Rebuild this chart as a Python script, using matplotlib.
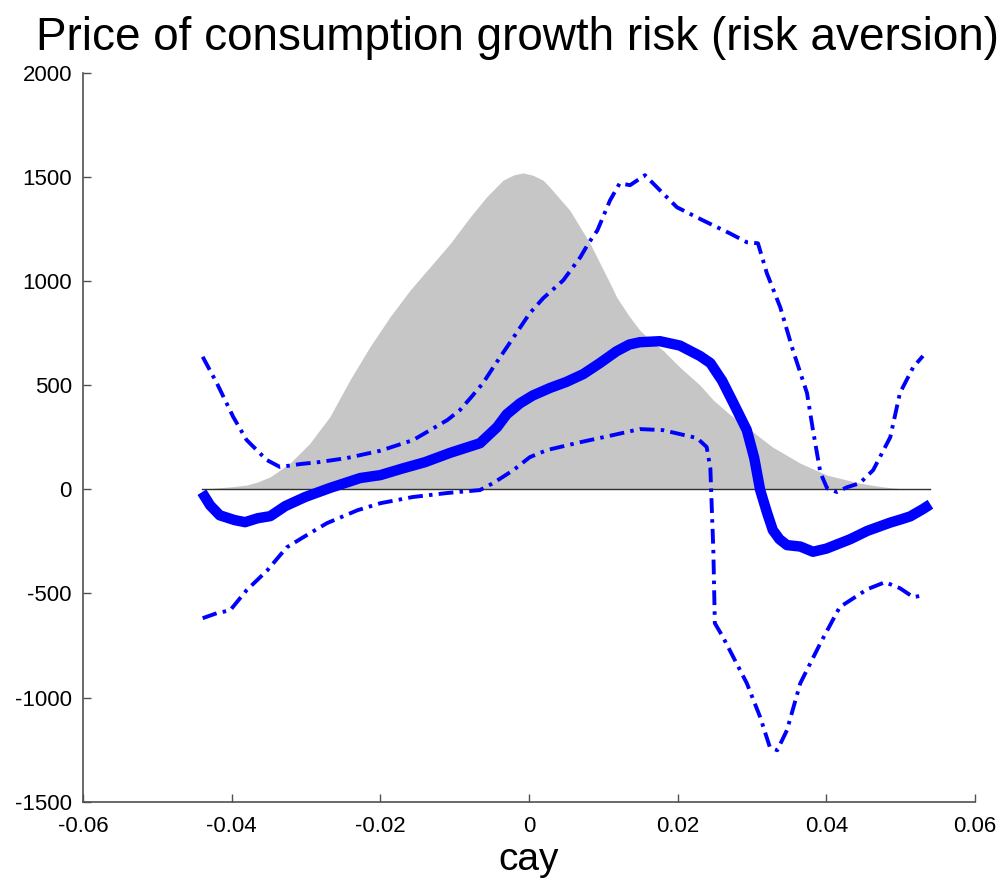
import matplotlib
matplotlib.use("Agg")
import matplotlib.pyplot as plt

# ---- data ----
density_x = [-0.0440, -0.0425, -0.0400, -0.0380, -0.0365, -0.0348, -0.0322, -0.0295, -0.0268,
             -0.0241, -0.0214, -0.0187, -0.0160, -0.0133, -0.0106, -0.0079, -0.0057, -0.0035,
             -0.0020, -0.0008, 0.0005, 0.0019, 0.0028, 0.0055, 0.0082, 0.0109, 0.0118, 0.0135,
             0.0149, 0.0165, 0.0180, 0.0203, 0.0230, 0.0248, 0.0270, 0.0293, 0.0328, 0.0365,
             0.0401, 0.0445, 0.0475, 0.0499, 0.0540]
density_y = [0, 5, 12, 20, 35, 60, 124, 220, 348,
             524, 684, 828, 956, 1068, 1180, 1308, 1404, 1484,
             1510, 1519, 1508, 1484, 1450, 1339, 1181, 989, 922, 830,
             764, 710, 668, 586, 500, 428, 360, 298, 202, 125,
             68, 29, 12, 3, 0]

mean_x = [-0.0440, -0.0429, -0.0416, -0.0396, -0.0382, -0.0365, -0.0348, -0.0328, -0.0301,
          -0.0268, -0.0227, -0.0200, -0.0170, -0.0140, -0.0106, -0.0066, -0.0043, -0.0030,
          -0.0012, 0.0005, 0.0028, 0.0050, 0.0073, 0.0095, 0.0118, 0.0135, 0.0149, 0.0176,
          0.0203, 0.0230, 0.0244, 0.0260, 0.0275, 0.0293, 0.0303, 0.0311, 0.0320, 0.0328,
          0.0337, 0.0347, 0.0365, 0.0382, 0.0400, 0.0412, 0.0432, 0.0455, 0.0486, 0.0500,
          0.0513, 0.0530, 0.0540]
mean_y = [-14, -77, -125, -148, -158, -139, -129, -81, -37,
          6, 54, 68, 100, 130, 175, 221, 298, 360,
          413, 450, 486, 515, 553, 605, 663, 695, 706, 711,
          690, 640, 606, 520, 414, 284, 150, -4, -110, -196,
          -240, -268, -275, -300, -285, -268, -240, -200, -160, -145,
          -130, -95, -72]

upper_x = [-0.0439, -0.0420, -0.0398, -0.0380, -0.0353, -0.0335, -0.0308, -0.0281, -0.0245,
           -0.0200, -0.0156, -0.0110, -0.0093, -0.0079, -0.0062, -0.0048, -0.0016, 0.0001,
           0.0019, 0.0046, 0.0069, 0.0080, 0.0092, 0.0109, 0.0122, 0.0136, 0.0156, 0.0176,
           0.0199, 0.0234, 0.0270, 0.0293, 0.0308, 0.0320, 0.0338, 0.0355, 0.0374, 0.0382,
           0.0392, 0.0401, 0.0414, 0.0428, 0.0445, 0.0463, 0.0486, 0.0499, 0.0517, 0.0530]
upper_y = [636, 510, 348, 237, 141, 107, 121, 131, 150,
           185, 236, 332, 380, 437, 509, 586, 755, 845,
           917, 1003, 1114, 1181, 1243, 1387, 1469, 1460, 1508, 1436,
           1354, 1291, 1229, 1186, 1181, 1037, 874, 668, 462, 284,
           80, 5, -13, 10, 29, 92, 250, 462, 587, 640]

lower_x = [-0.0439, -0.0420, -0.0402, -0.0380, -0.0352, -0.0326, -0.0304, -0.0272, -0.0231,
           -0.0200, -0.0156, -0.0110, -0.0066, -0.0048, -0.0021, 0.0001, 0.0024, 0.0069,
           0.0113, 0.0149, 0.0180, 0.0203, 0.0226, 0.0239, 0.0244, 0.0246, 0.0248, 0.0250,
           0.0261, 0.0293, 0.0311, 0.0324, 0.0334, 0.0347, 0.0365, 0.0392, 0.0418, 0.0455,
           0.0479, 0.0499, 0.0517, 0.0529]
lower_y = [-619, -595, -581, -485, -389, -279, -231, -163, -101,
           -67, -37, -18, -4, 30, 92, 154, 188, 226,
           260, 289, 284, 265, 246, 203, 100, -100, -293, -643,
           -710, -931, -1094, -1238, -1253, -1157, -931, -739, -566, -480,
           -446, -475, -518, -510]

title = "Price of consumption growth risk (risk aversion)"
xlabel = "cay"
xticks = [-0.06, -0.04, -0.02, 0, 0.02, 0.04, 0.06]
xticklabels = ["-0.06", "-0.04", "-0.02", "0", "0.02", "0.04", "0.06"]
yticks = [-1500, -1000, -500, 0, 500, 1000, 1500, 2000]
yticklabels = ["-1500", "-1000", "-500", "0", "500", "1000", "1500", "2000"]

# ---- drawing ----
plt.rcParams['font.family'] = ['Liberation Sans', 'DejaVu Sans']
fig = plt.figure(figsize=(10.08, 8.82), dpi=100)
ax = fig.add_axes([83 / 1008, 1 - 801.7 / 882, (975 - 83) / 1008, (801.7 - 72.7) / 882])

ax.fill_between(density_x, 0, density_y, color='#c6c6c6', linewidth=0, zorder=1)
ax.plot([density_x[0], density_x[-1]], [0, 0], color='#303030', linewidth=1.0, zorder=2)
ax.plot(mean_x, mean_y, color='#0000ff', linewidth=7.5, solid_capstyle='butt',
        solid_joinstyle='round', zorder=3)
dash = (0, (3.8, 1.6, 0.9, 1.6))
ax.plot(upper_x, upper_y, color='#0000ff', linewidth=2.8, linestyle=dash, zorder=3)
ax.plot(lower_x, lower_y, color='#0000ff', linewidth=2.8, linestyle=dash, zorder=3)

ax.set_xlim(-0.06, 0.06)
ax.set_ylim(-1500, 2000)
ax.set_xticks(xticks)
ax.set_xticklabels(xticklabels)
ax.set_yticks(yticks)
ax.set_yticklabels(yticklabels)
for s in ['top', 'right']:
    ax.spines[s].set_visible(False)
for s in ['left', 'bottom']:
    ax.spines[s].set_color('#505050')
    ax.spines[s].set_linewidth(1.2)
ax.tick_params(direction='in', length=6, width=1, color='#505050', labelsize=16,
               labelcolor='black')
ax.tick_params(axis='x', pad=10)
ax.tick_params(axis='y', pad=8)
ax.set_xlabel(xlabel, fontsize=28, labelpad=4)
fig.text(517 / 1008, 1 - 50 / 882, title, fontsize=33, ha='center', va='baseline')

fig.savefig("out.png", dpi=100)
